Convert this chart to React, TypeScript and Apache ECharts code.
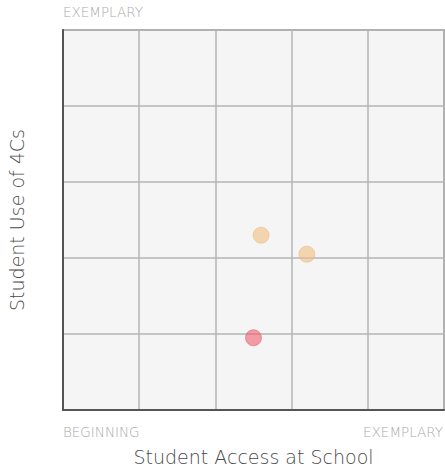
import React, { useEffect, useRef } from "react";
import * as echarts from "echarts";

const xAxisTitle = "Student Access at School";
const yAxisTitle = "Student Use of 4Cs";
const lowLabel = "BEGINNING";
const highLabel = "EXEMPLARY";

const accessValues = [52, 64, 50];
const useValues = [46, 41, 19];
const pointColors = ["rgba(242,190,130,0.75)", "rgba(242,190,130,0.75)", "rgba(238,95,110,0.75)"];
const pointBorders = ["rgba(235,175,110,0.6)", "rgba(235,175,110,0.6)", "rgba(225,80,95,0.6)"];

export default function App() {
  const ref = useRef<HTMLDivElement>(null);
  useEffect(() => {
    if (!ref.current) return;
    const chart = echarts.init(ref.current, undefined, { renderer: "svg" });
    const font = "'DejaVu Sans', sans-serif";
    chart.setOption({
      animation: false,
      grid: {
        left: 63,
        top: 30,
        width: 381,
        height: 380,
        show: true,
        outerBoundsMode: "none",
        containLabel: false,
        backgroundColor: "#f5f5f5",
        borderColor: "#a8a8a8",
        borderWidth: 2,
      },
      xAxis: {
        type: "value",
        min: 0,
        max: 100,
        interval: 20,
        axisLine: { show: true, onZero: false, lineStyle: { color: "#555", width: 2 } },
        axisTick: { show: false },
        axisLabel: { show: false },
        splitLine: { show: true, lineStyle: { color: "#b5b5b5", width: 1.5 } },
        name: xAxisTitle,
        nameLocation: "middle",
        nameGap: 37,
        nameTextStyle: { color: "#4a4a4a", fontSize: 19, fontWeight: 200, fontFamily: font },
      },
      yAxis: {
        type: "value",
        min: 0,
        max: 100,
        interval: 20,
        axisLine: { show: true, onZero: false, lineStyle: { color: "#555", width: 2 } },
        axisTick: { show: false },
        axisLabel: { show: false },
        splitLine: { show: true, lineStyle: { color: "#b5b5b5", width: 1.5 } },
        name: yAxisTitle,
        nameLocation: "middle",
        nameGap: 37,
        nameTextStyle: { color: "#4a4a4a", fontSize: 19, fontWeight: 200, fontFamily: font },
      },
      graphic: [
        {
          type: "text",
          left: 63,
          top: 5,
          style: { text: highLabel, fill: "#aaa", fontSize: 13.5, fontWeight: 200, fontFamily: font },
        },
        {
          type: "text",
          left: 63,
          top: 425,
          style: { text: lowLabel, fill: "#aaa", fontSize: 13.5, fontWeight: 200, fontFamily: font },
        },
        {
          type: "text",
          right: 2,
          top: 425,
          style: { text: highLabel, fill: "#aaa", fontSize: 13.5, fontWeight: 200, fontFamily: font },
        },
      ],
      series: [
        {
          type: "scatter",
          symbolSize: 16,
          data: accessValues.map((x, i) => ({
            value: [x, useValues[i]],
            itemStyle: { color: pointColors[i], borderColor: pointBorders[i], borderWidth: 1 },
          })),
        },
      ],
    });
    return () => chart.dispose();
  }, []);
  return <div ref={ref} style={{ width: 445, height: 471, position: "absolute", left: 0, top: 0 }} />;
}
